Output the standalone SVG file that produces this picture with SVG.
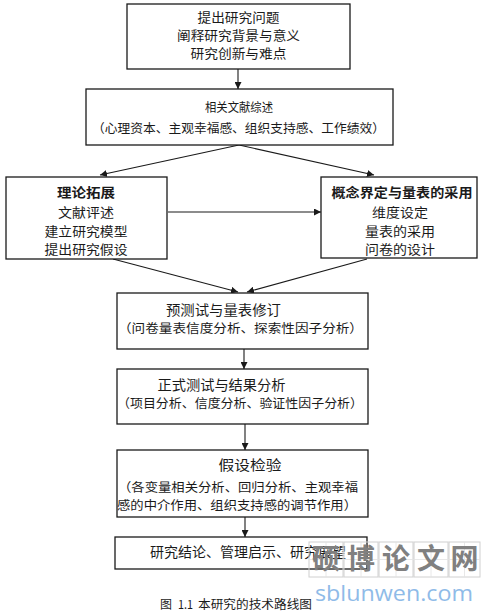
<svg xmlns="http://www.w3.org/2000/svg" width="498" height="612" viewBox="0 0 498 612">
<defs>
<style>
.box{fill:#fff;stroke:#1a1a1a;stroke-width:1.3}
.t{font-family:"Noto Sans CJK SC","Noto Sans",sans-serif;font-size:13.5px;fill:#1a1a1a;text-anchor:middle}
.s{font-size:12.5px}
.m{font-size:12.6px}
.b{font-weight:bold}
.cap{font-family:"Noto Sans CJK SC","Liberation Serif",sans-serif;font-size:12px;fill:#1a1a1a}
.c{stroke:#1a1a1a;stroke-width:1.1;fill:none;marker-end:url(#ah)}
.wm{font-family:"Noto Sans CJK SC",sans-serif;font-size:28px;font-weight:bold;fill:#808080;text-anchor:middle}
.g{fill:none;stroke:#d0d0d0;stroke-width:1}
.gl{stroke:#e2e2e2;stroke-width:0.8}
</style>
<marker id="ah" viewBox="0 0 10 10" refX="10" refY="5" markerWidth="7" markerHeight="7" orient="auto" markerUnits="userSpaceOnUse">
<path d="M0,0 L10,5 L0,10 z" fill="#1a1a1a"/>
</marker>
</defs>
<rect width="498" height="612" fill="#fff"/>

<g id="connectors">
<line class="c" x1="238" y1="69" x2="238" y2="89"/>
<line class="c" x1="239" y1="145" x2="100" y2="175"/>
<line class="c" x1="239" y1="145" x2="374" y2="175"/>
<line class="c" x1="168" y1="212" x2="321" y2="212"/>
<line class="c" x1="113" y1="259" x2="238" y2="292"/>
<line class="c" x1="367" y1="259" x2="247" y2="292"/>
<line class="c" x1="244" y1="349" x2="244" y2="369"/>
<line class="c" x1="245" y1="424" x2="245" y2="450"/>
<line class="c" x1="245" y1="517" x2="245" y2="537"/>
</g>

<g id="n1">
<rect class="box" x="127" y="4" width="223" height="65"/>
<text class="t m" x="238.5" y="22" textLength="82" lengthAdjust="spacingAndGlyphs">提出研究问题</text>
<text class="t m" x="238.5" y="40" textLength="123" lengthAdjust="spacingAndGlyphs">阐释研究背景与意义</text>
<text class="t m" x="238.5" y="58" textLength="96" lengthAdjust="spacingAndGlyphs">研究创新与难点</text>
</g>

<g id="n2">
<rect class="box" x="86" y="89" width="307" height="56"/>
<text class="t s" x="239" y="112" textLength="68" lengthAdjust="spacingAndGlyphs">相关文献综述</text>
<text class="t s" x="238.5" y="133" textLength="293" lengthAdjust="spacingAndGlyphs">（心理资本、主观幸福感、组织支持感、工作绩效）</text>
</g>

<g id="n3">
<rect class="box" x="6" y="177" width="161" height="82"/>
<text class="t b m" x="86" y="197" textLength="58" lengthAdjust="spacingAndGlyphs">理论拓展</text>
<text class="t m" x="86" y="216.5" textLength="56" lengthAdjust="spacingAndGlyphs">文献评述</text>
<text class="t m" x="86" y="235.5" textLength="83" lengthAdjust="spacingAndGlyphs">建立研究模型</text>
<text class="t m" x="86" y="254" textLength="83" lengthAdjust="spacingAndGlyphs">提出研究假设</text>
</g>

<g id="n4">
<rect class="box" x="321" y="177" width="156" height="81"/>
<text class="t b m" x="402" y="197" textLength="141" lengthAdjust="spacingAndGlyphs">概念界定与量表的采用</text>
<text class="t m" x="400" y="216.5" textLength="56" lengthAdjust="spacingAndGlyphs">维度设定</text>
<text class="t m" x="400" y="235.5" textLength="70" lengthAdjust="spacingAndGlyphs">量表的采用</text>
<text class="t m" x="400" y="254" textLength="70" lengthAdjust="spacingAndGlyphs">问卷的设计</text>
</g>

<g id="n5">
<rect class="box" x="117" y="293" width="251" height="56"/>
<text class="t" x="223.5" y="315" textLength="115" lengthAdjust="spacingAndGlyphs">预测试与量表修订</text>
<text class="t s" x="240.5" y="333" textLength="245" lengthAdjust="spacingAndGlyphs">（问卷量表信度分析、探索性因子分析）</text>
</g>

<g id="n6">
<rect class="box" x="117" y="369" width="251" height="55"/>
<text class="t" x="221.5" y="390" textLength="128" lengthAdjust="spacingAndGlyphs">正式测试与结果分析</text>
<text class="t s" x="240" y="408" textLength="246" lengthAdjust="spacingAndGlyphs">（项目分析、信度分析、验证性因子分析）</text>
</g>

<g id="n7">
<rect class="box" x="117" y="450" width="251" height="67"/>
<text class="t" x="250" y="470" textLength="63" lengthAdjust="spacingAndGlyphs">假设检验</text>
<text class="t s" x="238" y="492" textLength="240" lengthAdjust="spacingAndGlyphs">（各变量相关分析、回归分析、主观幸福</text>
<text class="t s" x="237" y="510" textLength="240" lengthAdjust="spacingAndGlyphs">感的中介作用、组织支持感的调节作用）</text>
</g>

<g id="n8">
<rect class="box" x="115" y="537" width="252" height="32"/>
<text class="t" x="248" y="557" textLength="196" lengthAdjust="spacingAndGlyphs">研究结论、管理启示、研究展望</text>
</g>

<g id="caption">
<text class="cap" x="160" y="609">图</text>
<text class="cap" x="178" y="609" textLength="15" lengthAdjust="spacingAndGlyphs">1.1</text>
<text class="cap" x="198" y="609" textLength="114" lengthAdjust="spacingAndGlyphs">本研究的技术路线图</text>
</g>

<g id="watermark">
<rect class="g" x="309" y="542" width="34" height="35"/>
<rect class="g" x="344" y="542" width="34" height="35"/>
<rect class="g" x="379" y="542" width="34" height="35"/>
<rect class="g" x="414" y="542" width="34" height="35"/>
<rect class="g" x="449" y="542" width="31" height="35"/>
<line class="gl" x1="309" y1="559.5" x2="480" y2="559.5"/>
<line class="gl" x1="326" y1="542" x2="326" y2="577"/>
<line class="gl" x1="361" y1="542" x2="361" y2="577"/>
<line class="gl" x1="396" y1="542" x2="396" y2="577"/>
<line class="gl" x1="431" y1="542" x2="431" y2="577"/>
<line class="gl" x1="464.5" y1="542" x2="464.5" y2="577"/>
<text class="wm" x="326" y="569">硕</text>
<text class="wm" x="361" y="569">博</text>
<text class="wm" x="396" y="569">论</text>
<text class="wm" x="431" y="569">文</text>
<text class="wm" x="464.5" y="569">网</text>
<text x="315" y="601" style="font-family:'Open Sans','Liberation Sans',sans-serif;font-size:22px;fill:#8fbbe8" textLength="158" lengthAdjust="spacingAndGlyphs">sblunwen.com</text>
</g>
</svg>
